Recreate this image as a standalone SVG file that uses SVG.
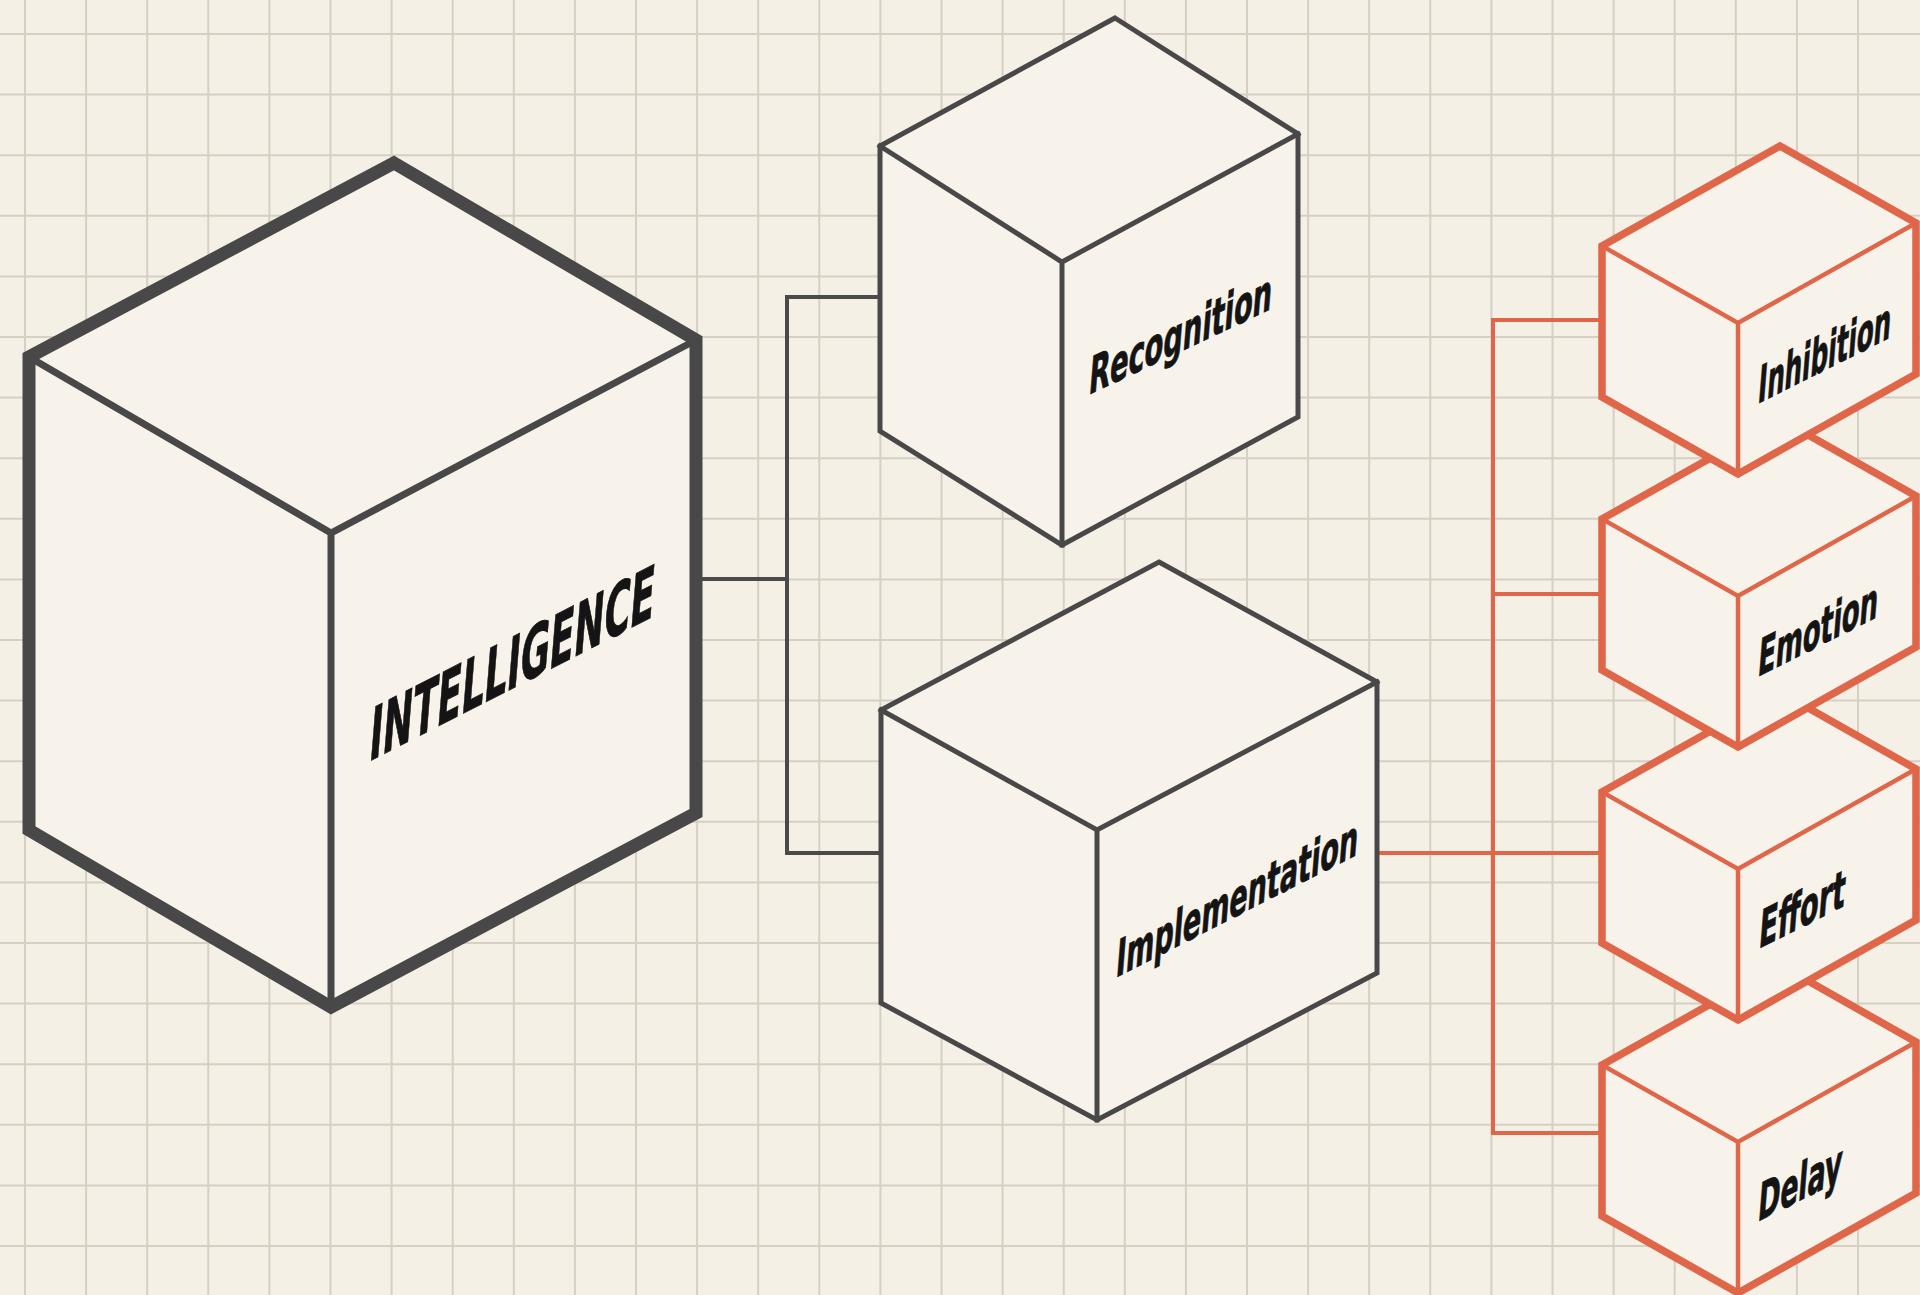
<svg xmlns="http://www.w3.org/2000/svg" width="1920" height="1295" viewBox="0 0 1920 1295">
  <style>
    .grid { fill: none; stroke: #d5cfc4; stroke-width: 2; }
    .face { fill: #f7f3ea; }
    .dark { stroke: #484848; fill: none; stroke-linejoin: miter; stroke-linecap: square; }
    .orange { stroke: #e0664a; fill: none; stroke-linejoin: miter; stroke-linecap: square; }
    .wire-dark { stroke: #4a4a4a; stroke-width: 4; fill: none; }
    .wire-orange { stroke: #e0664a; stroke-width: 4; fill: none; }
    .label { font-family: "Liberation Sans Narrow", "DejaVu Sans Condensed", "Liberation Sans", sans-serif; font-weight: 700; fill: #141414; stroke: #141414; stroke-width: 0.9; }
  </style>

  <!-- paper -->
  <rect width="1920" height="1295" fill="#f5f0e6"/>
  <path class="grid" d="M25 0V1295M86.1 0V1295M147.2 0V1295M208.3 0V1295M269.4 0V1295M330.5 0V1295M391.6 0V1295M452.7 0V1295M513.8 0V1295M574.9 0V1295M636 0V1295M697.1 0V1295M758.2 0V1295M819.3 0V1295M880.4 0V1295M941.5 0V1295M1002.6 0V1295M1063.7 0V1295M1124.8 0V1295M1185.9 0V1295M1247 0V1295M1308.1 0V1295M1369.2 0V1295M1430.3 0V1295M1491.4 0V1295M1552.5 0V1295M1613.6 0V1295M1674.7 0V1295M1735.8 0V1295M1796.9 0V1295M1858 0V1295
M0 34H1920M0 94.6H1920M0 155.2H1920M0 215.8H1920M0 276.4H1920M0 337H1920M0 397.6H1920M0 458.2H1920M0 518.8H1920M0 579.4H1920M0 640H1920M0 700.6H1920M0 761.2H1920M0 821.8H1920M0 882.4H1920M0 943H1920M0 1003.6H1920M0 1064.2H1920M0 1124.8H1920M0 1185.4H1920M0 1246H1920"/>

  <!-- connectors -->
  <g id="connectors">
    <path class="wire-dark" d="M697 579H787M880 297H787V853H880"/>
    <path class="wire-orange" d="M1378 853H1602M1602 320H1493V1133H1602M1493 594H1602"/>
  </g>

  <!-- INTELLIGENCE -->
  <g id="intelligence">
    <polygon class="face" points="394,163 696,340 696,813 331,1007 29,830 29,357"/>
    <path class="dark" stroke-width="7" d="M29 357L331 533L696 340M331 533V1007"/>
    <polygon class="dark" stroke-width="13" points="394,163 696,340 696,813 331,1007 29,830 29,357"/>
    <text class="label" font-size="74" textLength="285" lengthAdjust="spacingAndGlyphs" transform="matrix(1,-0.51,-0.08,1,368,762)">INTELLIGENCE</text>
  </g>

  <!-- Recognition -->
  <g id="recognition">
    <polygon class="face" points="1115,18 1298,134 1298,417 1062,545 880,431 880,146"/>
    <path class="dark" stroke-width="5" d="M880 146L1062 262L1298 134M1062 262V545"/>
    <polygon class="dark" stroke-width="5" points="1115,18 1298,134 1298,417 1062,545 880,431 880,146"/>
    <text class="label" font-size="52" textLength="183" lengthAdjust="spacingAndGlyphs" transform="matrix(1,-0.47,-0.08,1,1088,395)">Recognition</text>
  </g>

  <!-- Implementation -->
  <g id="implementation">
    <polygon class="face" points="1159,562 1377,682 1377,973 1097,1120 881,1003 881,710"/>
    <path class="dark" stroke-width="5" d="M881 710L1097 830L1377 682M1097 830V1120"/>
    <polygon class="dark" stroke-width="5" points="1159,562 1377,682 1377,973 1097,1120 881,1003 881,710"/>
    <text class="label" font-size="52" textLength="242" lengthAdjust="spacingAndGlyphs" transform="matrix(1,-0.51,-0.08,1,1115,978)">Implementation</text>
  </g>

  <!-- factor stack, drawn bottom-up so each block sits over the one beneath -->
  <g id="delay">
    <polygon class="face" points="1780,965 1916,1042 1916,1193 1738,1293 1602,1216 1602,1065"/>
    <path class="orange" stroke-width="4.5" d="M1602 1065L1738 1142L1916 1042M1738 1142V1293"/>
    <polygon class="orange" stroke-width="7.5" points="1780,965 1916,1042 1916,1193 1738,1293 1602,1216 1602,1065"/>
    <text class="label" font-size="53" textLength="84" lengthAdjust="spacingAndGlyphs" transform="matrix(1,-0.5,-0.08,1,1757,1222)">Delay</text>
  </g>

  <g id="effort">
    <polygon class="face" points="1780,692 1916,769 1916,920 1738,1020 1602,943 1602,792"/>
    <path class="orange" stroke-width="4.5" d="M1602 792L1738 869L1916 769M1738 869V1020"/>
    <polygon class="orange" stroke-width="7.5" points="1780,692 1916,769 1916,920 1738,1020 1602,943 1602,792"/>
    <text class="label" font-size="53" textLength="86" lengthAdjust="spacingAndGlyphs" transform="matrix(1,-0.5,-0.08,1,1758,949)">Effort</text>
  </g>

  <g id="emotion">
    <polygon class="face" points="1780,419 1916,496 1916,647 1738,747 1602,670 1602,519"/>
    <path class="orange" stroke-width="4.5" d="M1602 519L1738 596L1916 496M1738 596V747"/>
    <polygon class="orange" stroke-width="7.5" points="1780,419 1916,496 1916,647 1738,747 1602,670 1602,519"/>
    <text class="label" font-size="52" textLength="120" lengthAdjust="spacingAndGlyphs" transform="matrix(1,-0.5,-0.08,1,1757,677)">Emotion</text>
  </g>

  <g id="inhibition">
    <polygon class="face" points="1780,146 1916,223 1916,374 1738,474 1602,397 1602,246"/>
    <path class="orange" stroke-width="4.5" d="M1602 246L1738 323L1916 223M1738 323V474"/>
    <polygon class="orange" stroke-width="7.5" points="1780,146 1916,223 1916,374 1738,474 1602,397 1602,246"/>
    <text class="label" font-size="52" textLength="133" lengthAdjust="spacingAndGlyphs" transform="matrix(1,-0.5,-0.08,1,1757,404)">Inhibition</text>
  </g>
</svg>
